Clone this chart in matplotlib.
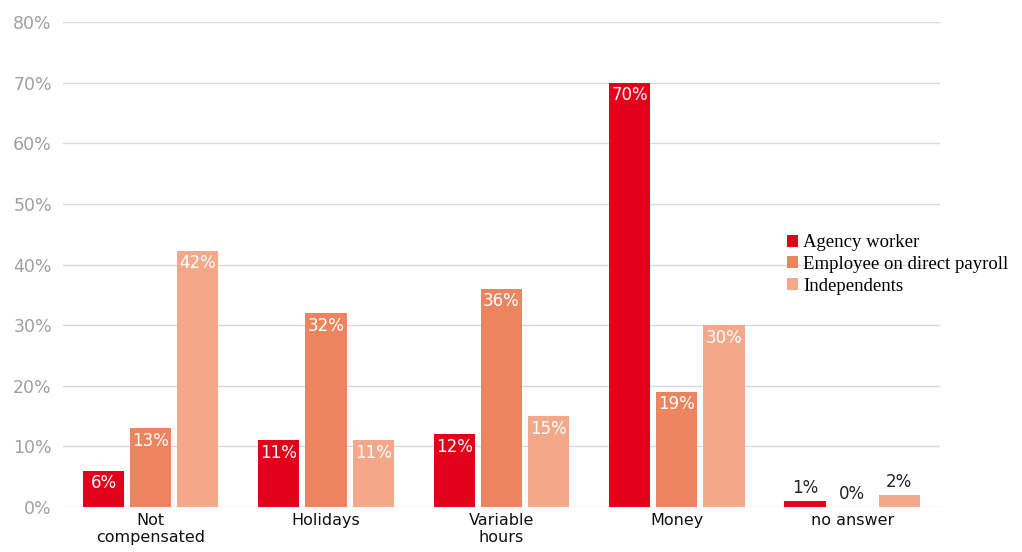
import matplotlib.pyplot as plt
import numpy as np

categories = ["Not\ncompensated", "Holidays", "Variable\nhours", "Money", "no answer"]
series = ["Agency worker", "Employee on direct payroll", "Independents"]
agency = [6, 11, 12, 70, 1]
employee = [13, 32, 36, 19, 0]
independents = [42.3, 11, 15, 30, 2]
labels = [["6%", "11%", "12%", "70%", "1%"],
          ["13%", "32%", "36%", "19%", "0%"],
          ["42%", "11%", "15%", "30%", "2%"]]

colors = ["#E2001A", "#EC845F", "#F3A88A"]

fig = plt.figure(figsize=(10.22, 5.52), dpi=100)
ax = fig.add_axes([0.0616, 0.0815, 0.858, 0.8785])

x = np.arange(len(categories))
w = 0.235
pitch = 0.269
for i, vals in enumerate([agency, employee, independents]):
    pos = x + (i - 1) * pitch
    ax.bar(pos, vals, w, color=colors[i], label=series[i], zorder=2)
    for p, v, t in zip(pos, vals, labels[i]):
        if v >= 5:
            ax.text(p, v - 0.6, t, ha="center", va="top", color="white", fontsize=12, zorder=3)
        else:
            ax.text(p, v + 0.6, t, ha="center", va="bottom", color="#222222", fontsize=12, zorder=3)

ax.set_xlim(-0.5, 4.5)
ax.set_ylim(0, 80)
ax.set_yticks(range(0, 81, 10))
ax.set_yticklabels([f"{v}%" for v in range(0, 81, 10)], color="#a0a0a0", fontsize=12.5)
ax.set_xticks(x)
ax.set_xticklabels(categories, fontsize=11.5, color="#111111", linespacing=1.2)
ax.yaxis.grid(True, color="#d9d9d9", linewidth=1, zorder=0)
ax.tick_params(length=0)
ax.tick_params(axis="y", pad=8)
ax.tick_params(axis="x", pad=4)
for s in ax.spines.values():
    s.set_visible(False)

leg = ax.legend(loc="center left", bbox_to_anchor=(0.806, 0.5), frameon=False,
                prop={"family": "Liberation Serif", "size": 13.5}, handlelength=0.6,
                handleheight=0.6, handletextpad=0.3, labelspacing=0.25)

plt.savefig("out.png")
